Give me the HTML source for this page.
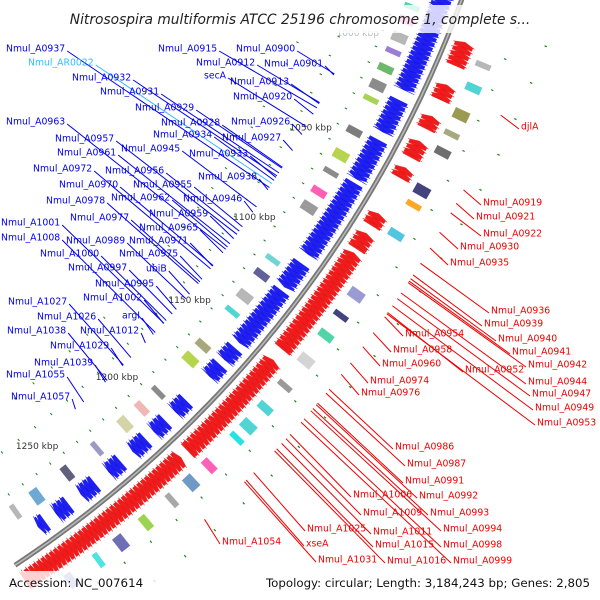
<!DOCTYPE html>
<html><head><meta charset="utf-8">
<style>
html,body{margin:0;padding:0;background:#fff;width:600px;height:600px;overflow:hidden;}
svg{display:block;overflow:hidden;}
text{font-family:"DejaVu Sans","Liberation Sans",sans-serif;}
</style></head>
<body>
<svg id="map" width="600" height="600" viewBox="0 0 600 600" xmlns="http://www.w3.org/2000/svg">
<g id="features"></g>
<g id="labels"></g>
<rect x="0" y="5" width="600" height="28" fill="#fff" opacity="0.8"/>
<text x="300" y="24" text-anchor="middle" font-size="13.8" font-style="italic" fill="#222">Nitrosospira multiformis ATCC 25196 chromosome 1, complete s...</text>
<rect x="0" y="571" width="600" height="24" fill="#fff" opacity="0.8"/>
<text x="9" y="587" font-size="11.8" fill="#111">Accession: NC_007614</text>
<text x="590" y="587" text-anchor="end" font-size="11.8" fill="#111">Topology: circular; Length: 3,184,243 bp; Genes: 2,805</text>
</svg>
<script>
// geometry
const CX=-622, CY=-397, R=1154;
function ang(k){return (23.7+(k-1000)*0.1131)*Math.PI/180;}
function P(k,r){const a=ang(k);return [CX+r*Math.cos(a),CY+r*Math.sin(a)];}
// data
const tickKbp=[1000,1050,1100,1150,1200,1250];
const blueSegments=[[962,1015],[1020,1036],[1040,1060],[1062,1100],[1105,1118],[1120,1150],[1153,1160],[1163,1170],[1185,1192],[1198,1205],[1210,1218],[1225,1232],[1240,1248],[1255,1262],[1268,1272]];
const redSegments=[[985,996],[1005,1012],[1020,1026],[1032,1040],[1045,1050],[1068,1074],[1078,1086],[1088,1140],[1146,1200],[1204,1290]];
const innerBoxKbp=[978,984,992,1000,1008,1016,1024,1040,1052,1062,1072,1080,1110,1118,1130,1140,1160,1168,1190,1200,1210,1228,1245,1262,1275];
const innerBoxColor=["#33cc99","#ff44aa","#aaaaaa","#8866cc","#55aa55","#777777","#99cc33","#666666","#aacc33","#777777","#ff44aa","#888888","#55cccc","#444488","#aaaaaa","#33cccc","#999966","#aacc33","#777777","#eeaaaa","#cccc99","#8888bb","#444466","#5599cc","#aaaaaa"];
const outerBoxKbp=[990,1000,1012,1022,1030,1048,1056,1070,1100,1112,1122,1135,1150,1162,1172,1180,1196,1206,1218,1232,1245,1258,1272];
const outerBoxColor=["#aaaaaa","#33cccc","#888833","#999966","#555555","#222266","#ff9900","#33bbdd","#8888cc","#222266","#33cc99","#cccccc","#888888","#33cccc","#33cccc","#00dddd","#ff44aa","#5588bb","#999999","#88cc33","#5555aa","#33dddd","#7777cc"];
const blueLabels=[["Nmul_A0937",6,48],["Nmul_AR0022",28,62],["Nmul_A0932",72,77],["Nmul_A0931",100,91],["Nmul_A0963",6,121],["Nmul_A0957",55,138],["Nmul_A0961",57,152],["Nmul_A0972",33,168],["Nmul_A0970",59,184],["Nmul_A0978",46,200],["Nmul_A0977",70,217],["Nmul_A1001",1,222],["Nmul_A1008",1,237],["Nmul_A0989",66,240],["Nmul_A1000",40,253],["Nmul_A0997",68,267],["Nmul_A1027",8,301],["Nmul_A1026",37,316],["Nmul_A1038",7,330],["Nmul_A1029",50,345],["Nmul_A1039",34,362],["Nmul_A1055",6,374],["Nmul_A1057",11,396],
["Nmul_A0915",158,48],["Nmul_A0900",236,48],["Nmul_A0912",196,62],["Nmul_A0901",264,63],["secA",204,75],["Nmul_A0913",230,81],["Nmul_A0920",233,96],["Nmul_A0929",135,107],["Nmul_A0928",161,122],["Nmul_A0926",231,121],["Nmul_A0934",153,134],["Nmul_A0927",222,137],["Nmul_A0945",121,148],["Nmul_A0933",189,153],["Nmul_A0956",105,170],["Nmul_A0938",198,176],["Nmul_A0955",133,184],["Nmul_A0962",111,197],["Nmul_A0946",183,198],["Nmul_A0959",149,213],["Nmul_A0965",139,227],["Nmul_A0971",129,240],["Nmul_A0975",119,253],["ubiB",146,268],["Nmul_A0995",95,283],["Nmul_A1002",83,297],["argI",122,315],["Nmul_A1012",80,330]];
const redLabels=[["djlA",521,126],["Nmul_A0919",483,202],["Nmul_A0921",476,216],["Nmul_A0922",483,233],["Nmul_A0930",460,246],["Nmul_A0935",450,262],["Nmul_A0936",491,310],["Nmul_A0939",484,323],["Nmul_A0954",405,333],["Nmul_A0940",498,338],["Nmul_A0958",393,349],["Nmul_A0941",512,351],["Nmul_A0960",382,363],["Nmul_A0952",465,369],["Nmul_A0942",528,364],["Nmul_A0974",370,380],["Nmul_A0976",361,392],["Nmul_A0944",528,381],["Nmul_A0947",532,393],["Nmul_A0949",535,407],["Nmul_A0953",537,422],["Nmul_A0986",395,446],["Nmul_A0987",407,463],["Nmul_A0991",405,480],["Nmul_A1006",353,494],["Nmul_A0992",419,495],["Nmul_A0993",430,512],["Nmul_A1009",363,512],["Nmul_A0994",443,528],["Nmul_A1025",307,528],["Nmul_A1011",373,531],["xseA",306,543],["Nmul_A1054",222,541],["Nmul_A0998",443,544],["Nmul_A1015",375,544],["Nmul_A1031",318,559],["Nmul_A1016",387,560],["Nmul_A0999",453,560]];

const NS="http://www.w3.org/2000/svg";
const feat=document.getElementById('features');
const lab=document.getElementById('labels');
function mk(tag,attrs,parent){const e=document.createElementNS(NS,tag);for(const k in attrs)e.setAttribute(k,attrs[k]);parent.appendChild(e);return e;}
function pts(a){return a.map(p=>p[0].toFixed(1)+','+p[1].toFixed(1)).join(' ');}

// backbone
const bb=[];for(let k=950;k<=1290;k+=2)bb.push(P(k,R));
let e=mk('polyline',{points:pts(bb),fill:'none',stroke:'#fff',"stroke-width":14},feat);


e=mk('polyline',{points:pts(bb),fill:'none',stroke:'#777',"stroke-width":5},feat);


e=mk('polyline',{points:pts(bb),fill:'none',stroke:'#bbb',"stroke-width":1.5},feat);



// green marker rows
[-62,-100,-135,62,95].forEach((off,i)=>{
  for(let k=962+i*3;k<1290;k+=8+i*2){
    const a=P(k,R+off),b=P(k+0.5,R+off);
    const m=mk('line',{x1:a[0],y1:a[1],x2:b[0],y2:b[1],stroke:'#118811',"stroke-width":2.5},feat);
    
    
  }
});

// arrows
function arrows(segs,r1,r2,color,fwd,name){
  segs.forEach(s=>{
    for(let k=s[0];k<s[1];k+=2.2){
      const k2=Math.min(k+2.6,s[1]);const h=Math.min(1.3,(k2-k)*0.6);const rm=(r1+r2)/2;
      let p;
      if(fwd)p=[P(k,r1+2),P(k2-h,r1+2),P(k2-h,r1),P(k2,rm),P(k2-h,r2),P(k2-h,r2-2),P(k,r2-2)];
      else p=[P(k2,r1+2),P(k+h,r1+2),P(k+h,r1),P(k,rm),P(k+h,r2),P(k+h,r2-2),P(k2,r2-2)];
      const a=mk('polygon',{points:pts(p),fill:color,stroke:color,"stroke-width":0.4,opacity:0.95},feat);
      
      
    }
  });
}
arrows(blueSegments,R-30,R-7,'#1414ee',true,'forward-gene-arrow');
arrows(redSegments,R+7,R+30,'#ee1111',false,'reverse-gene-arrow');

// boxes
function boxes(ks,cols,r1,r2,name){
  ks.forEach((k,i)=>{
    const w=2.5+(i%3);
    const p=[P(k,r1),P(k+w,r1),P(k+w,r2),P(k,r2)];
    const b=mk('polygon',{points:pts(p),fill:cols[i%cols.length],opacity:0.85},feat);
    
    
  });
}
boxes(innerBoxKbp,innerBoxColor,R-52,R-36,'inner-feature-box');
boxes(outerBoxKbp,outerBoxColor,R+36,R+52,'outer-feature-box');

// ticks
tickKbp.forEach(k=>{
  const p=P(k,R-84);
  const t=mk('text',{x:p[0],y:p[1]+3,"font-size":9,fill:k===1000?'#bbb':'#333',"text-anchor":"middle"},feat);
  t.textContent=k+' kbp';
  
  
});

// labels
function polarAngle(x,y){return Math.atan2(y-CY,x-CX);}
blueLabels.forEach(l=>{
  const col=l[0]==='Nmul_AR0022'?'#33bbff':'#0000ee';
  const t=mk('text',{x:l[1],y:l[2]+3.5,"font-size":9.3,fill:col},lab);
  t.textContent=l[0];
  
  
  const w=t.getComputedTextLength();
  const sx=l[1]+w+2, sy=l[2]+3;
  const a=polarAngle(sx,sy)+0.004;
  const tx=CX+(R-88)*Math.cos(a), ty=CY+(R-88)*Math.sin(a);
  const ln=mk('line',{x1:sx,y1:sy,x2:tx,y2:ty,stroke:col,"stroke-width":1},lab);
  
  
});
redLabels.forEach(l=>{
  const t=mk('text',{x:l[1],y:l[2]+3.5,"font-size":9.3,fill:'#ee0000'},lab);
  t.textContent=l[0];
  
  
  const sx=l[1]-2, sy=l[2]+3;
  const a=polarAngle(sx,sy)-0.004;
  const tx=CX+(R+80)*Math.cos(a), ty=CY+(R+80)*Math.sin(a);
  const ln=mk('line',{x1:sx,y1:sy,x2:tx,y2:ty,stroke:'#ee0000',"stroke-width":1},lab);
  
  
});
</script>
</body></html>
